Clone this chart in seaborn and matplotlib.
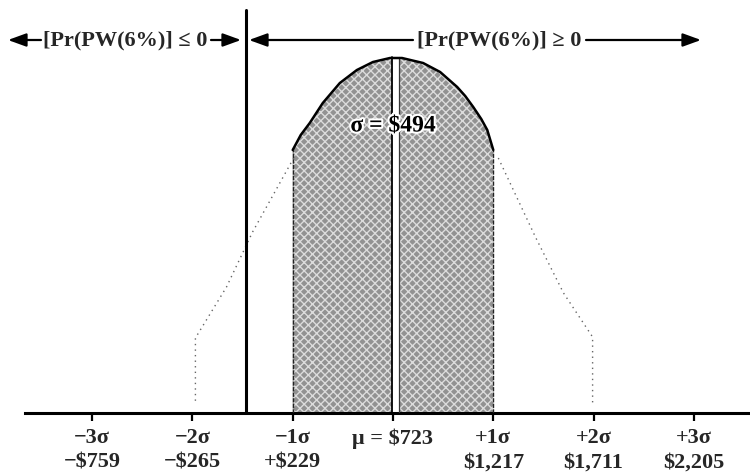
import numpy as np
import pandas as pd
import matplotlib
matplotlib.use("Agg")
import matplotlib.pyplot as plt
import matplotlib.patheffects as pe
import seaborn as sns

# ---- data ----
MU = 723
SIGMA = 494
tick_sigma = [-3, -2, -1, 0, 1, 2, 3]
tick_top = ["\u22123\u03c3", "\u22122\u03c3", "\u22121\u03c3", "\u03bc = $723", "+1\u03c3", "+2\u03c3", "+3\u03c3"]
tick_bottom = ["\u2212$759", "\u2212$265", "+$229", "", "$1,217", "$1,711", "$2,205"]

# central (shaded) part of the curve: position in sigma units, height (relative units)
arc_sigma = [-1.0, -0.92, -0.83, -0.70, -0.53, -0.36, -0.20, -0.03, 0.09, 0.30, 0.47, 0.64, 0.72, 0.80, 0.88, 0.94, 1.0]
arc_height = [263, 278, 290, 310, 330, 343, 351, 355, 355, 350, 341, 326, 317, 306, 294, 283, 263]

# faint dotted tails
left_sigma = [-0.99, -1.40, -1.66, -1.97, -1.97]
left_height = [255, 181, 126, 75, 10]
right_sigma = [1.05, 1.42, 1.70, 1.99, 1.99]
right_height = [255, 176, 120, 76, 10]

PW_ZERO = 0
label_left = "[Pr(PW(6%)] \u2264 0"
label_right = "[Pr(PW(6%)] \u2265 0"
sigma_label = "\u03c3 = $494"

# ---- figure ----
sns.set_theme(style="white")
plt.rcParams["font.family"] = ["Liberation Serif", "DejaVu Serif"]
plt.rcParams["font.weight"] = "bold"

W, H = 750, 474
fig = plt.figure(figsize=(7.5, 4.74), dpi=100)
ax = fig.add_axes([25 / W, 61 / H, 1 - 25 / W, 1 - 61 / H])

PXD = SIGMA / 100.3  # dollars per pixel
def px2x(px):
    return MU + (px - 393) * PXD

ax.set_xlim(px2x(25), px2x(750))
ax.set_ylim(0, 413)

arc = pd.DataFrame({"x": [MU + s * SIGMA for s in arc_sigma], "h": arc_height})
left = pd.DataFrame({"x": [MU + s * SIGMA for s in left_sigma], "h": left_height})
right = pd.DataFrame({"x": [MU + s * SIGMA for s in right_sigma], "h": right_height})

# shaded area
ax.fill_between(arc["x"], 0, arc["h"], facecolor="#929292", edgecolor="#dcdcdc",
                hatch="xxxx", linewidth=0, zorder=1)
# white gap at the mean
gap_l, gap_r = MU - 0.01 * SIGMA, MU + 0.06 * SIGMA
ax.fill_between([gap_l, gap_r], 0, [355, 355], color="white", linewidth=0, zorder=2)
ax.plot([gap_l, gap_l], [0, 356], color="black", lw=1.3, zorder=3)
ax.plot([gap_r, gap_r], [0, 356], color="#333333", lw=0.9, zorder=3)
# edges of shaded area
ax.plot([MU - SIGMA] * 2, [0, 263], color="#222222", lw=1.0, ls=(0, (3, 1)), zorder=3)
ax.plot([MU + SIGMA] * 2, [0, 263], color="#222222", lw=1.0, ls=(0, (3, 1)), zorder=3)

sns.lineplot(data=arc, x="x", y="h", ax=ax, color="black", lw=1.8, sort=False,
             estimator=None, zorder=4)
sns.lineplot(data=left, x="x", y="h", ax=ax, color="#666666", lw=1.0, sort=False,
             estimator=None, linestyle=(0, (1, 3)), zorder=2)
sns.lineplot(data=right, x="x", y="h", ax=ax, color="#666666", lw=1.0, sort=False,
             estimator=None, linestyle=(0, (1, 3)), zorder=2)

# PW = 0 line
ax.plot([PW_ZERO, PW_ZERO], [0, 403], color="black", lw=2.2, zorder=5, clip_on=False)

# sigma label
ax.text(MU, 287, sigma_label, ha="center", va="center", fontsize=17, fontweight="bold",
        color="black", zorder=6,
        path_effects=[pe.withStroke(linewidth=3, foreground="white")])

# top arrows and labels
ya = 373
ap = dict(arrowstyle="-|>,head_length=0.55,head_width=0.2", color="black", lw=1.6,
          mutation_scale=20, shrinkA=0, shrinkB=0)
ax.text(px2x(125), ya, label_left, ha="center", va="center", fontsize=16, fontweight="bold")
ax.annotate("", xy=(px2x(8), ya), xytext=(px2x(41), ya), arrowprops=ap, annotation_clip=False)
ax.annotate("", xy=(px2x(241), ya), xytext=(px2x(211), ya), arrowprops=ap, annotation_clip=False)
ax.text(px2x(499), ya, label_right, ha="center", va="center", fontsize=16, fontweight="bold")
ax.annotate("", xy=(px2x(249), ya), xytext=(px2x(413), ya), arrowprops=ap, annotation_clip=False)
ax.annotate("", xy=(px2x(701), ya), xytext=(px2x(586), ya), arrowprops=ap, annotation_clip=False)

# axis
for s in ["top", "left", "right"]:
    ax.spines[s].set_visible(False)
ax.spines["bottom"].set_linewidth(2.2)
ax.spines["bottom"].set_color("black")
ax.set_yticks([])
ax.set_xticks([MU + s * SIGMA for s in tick_sigma])
ax.set_xticklabels([f"{a}\n{b}" for a, b in zip(tick_top, tick_bottom)],
                   fontsize=16, fontweight="bold", linespacing=1.3)
ax.tick_params(axis="x", direction="out", length=6, width=1.6, color="black", pad=5,
               bottom=True)
ax.set_xlabel("")
ax.set_ylabel("")

fig.savefig("out.png", dpi=100)
